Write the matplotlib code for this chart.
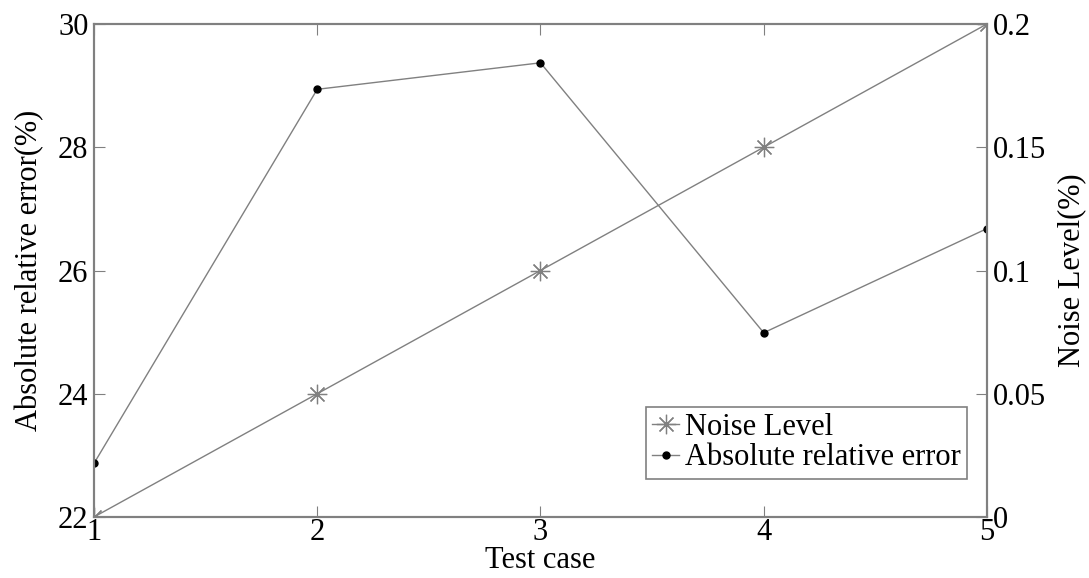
import matplotlib.pyplot as plt

# test cases and the two measured series
test_case = [1, 2, 3, 4, 5]
abs_rel_error = [22.87, 28.94, 29.37, 24.99, 26.68]
noise_level = [0, 0.05, 0.1, 0.15, 0.2]

plt.rcParams['font.family'] = ['Liberation Serif', 'DejaVu Serif']
plt.rcParams['font.size'] = 22

fig = plt.figure(figsize=(10.89, 5.78), dpi=100)
ax = fig.add_axes([0.0863, 0.1055, 0.82, 0.853])
ax2 = ax.twinx()

grey = '#808080'

# noise level on the right axis
l1, = ax2.plot(test_case, noise_level, color=grey, lw=1.0, marker=(8, 2, 0),
               markersize=14, markeredgecolor=grey, markeredgewidth=0.9,
               label='Noise Level')
# error on the left axis
l2, = ax.plot(test_case, abs_rel_error, color=grey, lw=1.0, marker='o',
              markersize=5, markerfacecolor='black', markeredgecolor='black',
              label='Absolute relative error')

ax.set_xlim(1, 5)
ax.set_ylim(22, 30)
ax.set_xticks([1, 2, 3, 4, 5])
ax.set_yticks([22, 24, 26, 28, 30])
ax2.set_ylim(0, 0.2)
ax2.set_yticks([0, 0.05, 0.1, 0.15, 0.2])
ax2.set_yticklabels(['0', '0.05', '0.1', '0.15', '0.2'])

ax.set_xlabel('Test case', va='top')
ax.xaxis.set_label_coords(0.5, -0.058)
ax.set_ylabel('Absolute relative error(%)', labelpad=10)
ax2.set_ylabel('Noise Level(%)', labelpad=8)

ax.tick_params(direction='in', length=8, width=0.8, color=grey,
               left=True, right=False, top=True, bottom=True, pad=4)
ax.tick_params(axis='x', pad=1)
ax2.tick_params(direction='in', length=8, width=0.8, color=grey,
                right=True, left=False, pad=4)

for a in (ax, ax2):
    for s in a.spines.values():
        s.set_color(grey)
        s.set_linewidth(1.5)

leg = ax.legend([l1, l2], ['Noise Level', 'Absolute relative error'],
                loc='lower right', bbox_to_anchor=(0.978, 0.078),
                fancybox=False, framealpha=1, edgecolor=grey,
                handlelength=0.9, handletextpad=0.2, borderpad=0.2,
                labelspacing=0.05, borderaxespad=0, fontsize=22)
leg.get_frame().set_linewidth(1.2)

plt.savefig('out.png', dpi=100)
